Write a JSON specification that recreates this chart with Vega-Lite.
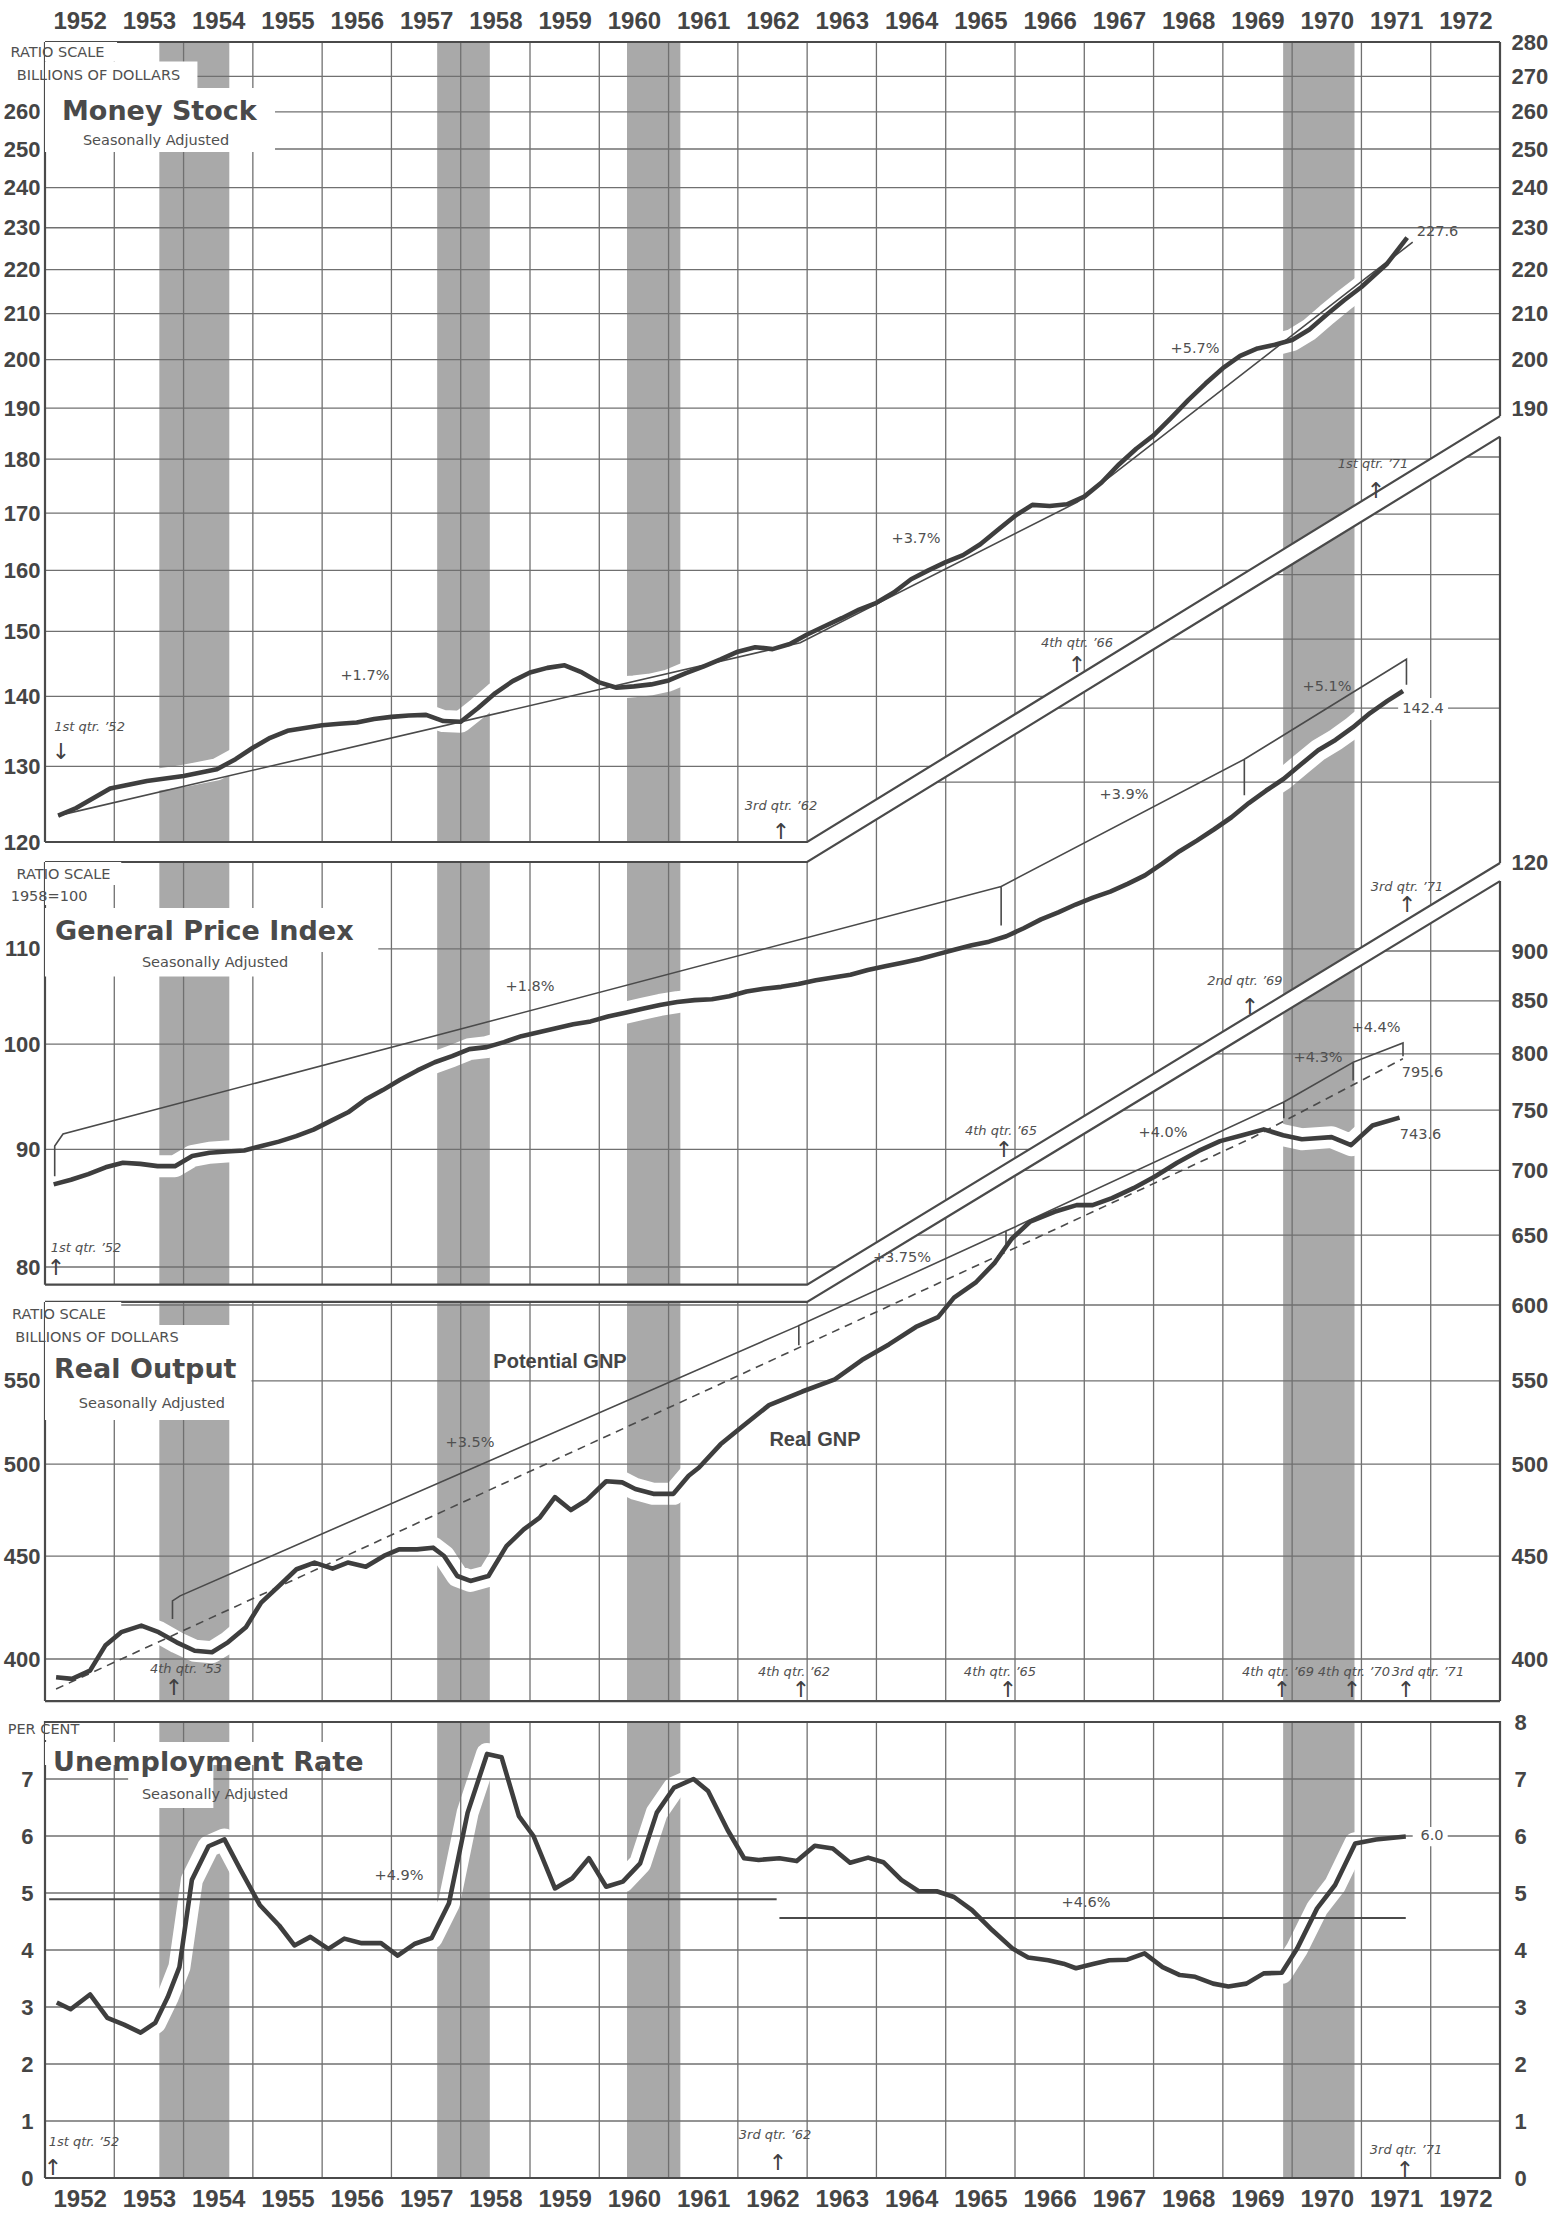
{
"$schema": "https://vega.github.io/schema/vega-lite/v6.json",
"width": 1455, "height": 2136,
"autosize": {"type": "none"},
"padding": {"left": 45, "right": 55, "top": 42, "bottom": 45},
"background": "white",
"config": {"view": {"stroke": null}, "axis": {"domain": false, "ticks": false, "tickSize": 0, "grid": false, "labelFont": "Liberation Sans", "labelFontSize": 22, "labelFontWeight": "bold", "labelColor": "#454545", "labelFlush": false, "labelOverlap": false, "labelBound": false}},
"datasets": {
"money": [{"t":1952.19,"v":123.4},{"t":1952.45,"v":124.4},{"t":1952.94,"v":127.0},{"t":1953.47,"v":128.0},{"t":1954.0,"v":128.7},{"t":1954.48,"v":129.6},{"t":1954.75,"v":131.0},{"t":1955.0,"v":132.6},{"t":1955.25,"v":134.0},{"t":1955.5,"v":135.0},{"t":1955.75,"v":135.4},{"t":1956.0,"v":135.8},{"t":1956.25,"v":136.0},{"t":1956.5,"v":136.2},{"t":1956.75,"v":136.7},{"t":1957.0,"v":137.0},{"t":1957.25,"v":137.2},{"t":1957.5,"v":137.3},{"t":1957.75,"v":136.4},{"t":1958.0,"v":136.3},{"t":1958.25,"v":138.3},{"t":1958.5,"v":140.5},{"t":1958.75,"v":142.3},{"t":1959.0,"v":143.6},{"t":1959.25,"v":144.3},{"t":1959.5,"v":144.7},{"t":1959.75,"v":143.6},{"t":1960.0,"v":142.1},{"t":1960.25,"v":141.3},{"t":1960.5,"v":141.5},{"t":1960.75,"v":141.8},{"t":1961.0,"v":142.4},{"t":1961.25,"v":143.5},{"t":1961.5,"v":144.5},{"t":1961.75,"v":145.6},{"t":1962.0,"v":146.8},{"t":1962.25,"v":147.5},{"t":1962.5,"v":147.2},{"t":1962.75,"v":148.0},{"t":1963.0,"v":149.5},{"t":1963.25,"v":150.8},{"t":1963.5,"v":152.1},{"t":1963.75,"v":153.5},{"t":1964.0,"v":154.6},{"t":1964.25,"v":156.3},{"t":1964.5,"v":158.5},{"t":1964.75,"v":160.0},{"t":1965.0,"v":161.4},{"t":1965.25,"v":162.6},{"t":1965.5,"v":164.5},{"t":1965.75,"v":167.0},{"t":1966.0,"v":169.5},{"t":1966.25,"v":171.5},{"t":1966.5,"v":171.3},{"t":1966.75,"v":171.6},{"t":1967.0,"v":173.0},{"t":1967.25,"v":175.6},{"t":1967.5,"v":179.0},{"t":1967.75,"v":182.0},{"t":1968.0,"v":184.6},{"t":1968.25,"v":188.0},{"t":1968.5,"v":191.6},{"t":1968.75,"v":195.0},{"t":1969.0,"v":198.2},{"t":1969.25,"v":200.8},{"t":1969.5,"v":202.4},{"t":1969.75,"v":203.2},{"t":1970.0,"v":204.2},{"t":1970.25,"v":206.5},{"t":1970.5,"v":209.8},{"t":1970.75,"v":213.0},{"t":1971.0,"v":216.0},{"t":1971.37,"v":221.4},{"t":1971.66,"v":227.6}],
"moneyTrend": [{"i":0,"t":1952.19,"v":123.4},{"i":1,"t":1962.9,"v":148.2},{"i":2,"t":1966.9,"v":172.0},{"i":3,"t":1971.1,"v":218.5},{"i":4,"t":1971.74,"v":226.5}],
"price": [{"t":1952.125,"v":86.9},{"t":1952.375,"v":87.3},{"t":1952.625,"v":87.8},{"t":1952.875,"v":88.4},{"t":1953.125,"v":88.8},{"t":1953.375,"v":88.7},{"t":1953.625,"v":88.5},{"t":1953.875,"v":88.5},{"t":1954.125,"v":89.4},{"t":1954.375,"v":89.7},{"t":1954.625,"v":89.8},{"t":1954.875,"v":89.9},{"t":1955.125,"v":90.3},{"t":1955.375,"v":90.7},{"t":1955.625,"v":91.2},{"t":1955.875,"v":91.8},{"t":1956.125,"v":92.6},{"t":1956.375,"v":93.4},{"t":1956.625,"v":94.6},{"t":1956.875,"v":95.5},{"t":1957.125,"v":96.5},{"t":1957.375,"v":97.4},{"t":1957.625,"v":98.2},{"t":1957.875,"v":98.8},{"t":1958.125,"v":99.5},{"t":1958.375,"v":99.7},{"t":1958.625,"v":100.2},{"t":1958.875,"v":100.8},{"t":1959.125,"v":101.2},{"t":1959.375,"v":101.6},{"t":1959.625,"v":102.0},{"t":1959.875,"v":102.3},{"t":1960.125,"v":102.8},{"t":1960.375,"v":103.2},{"t":1960.625,"v":103.6},{"t":1960.875,"v":104.0},{"t":1961.125,"v":104.3},{"t":1961.375,"v":104.5},{"t":1961.625,"v":104.6},{"t":1961.875,"v":104.9},{"t":1962.125,"v":105.4},{"t":1962.375,"v":105.7},{"t":1962.625,"v":105.9},{"t":1962.875,"v":106.2},{"t":1963.125,"v":106.6},{"t":1963.375,"v":106.9},{"t":1963.625,"v":107.2},{"t":1963.875,"v":107.7},{"t":1964.125,"v":108.1},{"t":1964.375,"v":108.5},{"t":1964.625,"v":108.9},{"t":1964.875,"v":109.4},{"t":1965.125,"v":109.9},{"t":1965.375,"v":110.4},{"t":1965.625,"v":110.8},{"t":1965.875,"v":111.4},{"t":1966.125,"v":112.3},{"t":1966.375,"v":113.3},{"t":1966.625,"v":114.1},{"t":1966.875,"v":115.0},{"t":1967.125,"v":115.8},{"t":1967.375,"v":116.5},{"t":1967.625,"v":117.4},{"t":1967.875,"v":118.4},{"t":1968.125,"v":119.8},{"t":1968.375,"v":121.3},{"t":1968.625,"v":122.6},{"t":1968.875,"v":124.0},{"t":1969.125,"v":125.5},{"t":1969.375,"v":127.3},{"t":1969.625,"v":128.9},{"t":1969.875,"v":130.4},{"t":1970.125,"v":132.3},{"t":1970.375,"v":134.2},{"t":1970.625,"v":135.6},{"t":1970.875,"v":137.3},{"t":1971.125,"v":139.3},{"t":1971.375,"v":141.0},{"t":1971.6,"v":142.4}],
"priceTrend": [{"i":0,"t":1952.14,"v":87.6},{"i":1,"t":1952.14,"v":90.3},{"i":2,"t":1952.26,"v":91.4},{"i":3,"t":1965.8,"v":117.1},{"i":4,"t":1965.8,"v":112.6},{"i":5,"t":1965.8,"v":117.1},{"i":6,"t":1969.31,"v":133.0},{"i":7,"t":1969.31,"v":128.3},{"i":8,"t":1969.31,"v":133.0},{"i":9,"t":1971.65,"v":147.0},{"i":10,"t":1971.65,"v":143.3}],
"real": [{"t":1952.16,"v":391.7},{"t":1952.39,"v":391.0},{"t":1952.65,"v":394.7},{"t":1952.87,"v":406.2},{"t":1953.1,"v":412.5},{"t":1953.39,"v":415.6},{"t":1953.64,"v":412.5},{"t":1953.9,"v":407.7},{"t":1954.16,"v":403.8},{"t":1954.41,"v":403.1},{"t":1954.64,"v":407.7},{"t":1954.9,"v":414.8},{"t":1955.12,"v":426.7},{"t":1955.38,"v":435.0},{"t":1955.63,"v":443.3},{"t":1955.89,"v":446.7},{"t":1956.15,"v":443.6},{"t":1956.37,"v":446.7},{"t":1956.63,"v":444.6},{"t":1956.89,"v":450.1},{"t":1957.11,"v":453.5},{"t":1957.37,"v":453.5},{"t":1957.6,"v":454.4},{"t":1957.76,"v":450.1},{"t":1957.95,"v":439.9},{"t":1958.14,"v":437.4},{"t":1958.4,"v":439.9},{"t":1958.66,"v":455.2},{"t":1958.91,"v":464.0},{"t":1959.14,"v":470.3},{"t":1959.36,"v":481.5},{"t":1959.59,"v":474.4},{"t":1959.81,"v":479.6},{"t":1960.1,"v":490.3},{"t":1960.33,"v":489.7},{"t":1960.52,"v":486.0},{"t":1960.78,"v":483.3},{"t":1961.07,"v":483.3},{"t":1961.29,"v":493.4},{"t":1961.44,"v":498.1},{"t":1961.75,"v":511.5},{"t":1962.06,"v":521.9},{"t":1962.45,"v":535.0},{"t":1962.93,"v":543.4},{"t":1963.4,"v":551.0},{"t":1963.79,"v":563.3},{"t":1964.18,"v":573.5},{"t":1964.57,"v":585.1},{"t":1964.89,"v":591.7},{"t":1965.12,"v":605.1},{"t":1965.44,"v":616.0},{"t":1965.71,"v":629.9},{"t":1965.95,"v":647.1},{"t":1966.22,"v":660.2},{"t":1966.57,"v":667.6},{"t":1966.89,"v":672.7},{"t":1967.12,"v":672.7},{"t":1967.4,"v":678.2},{"t":1967.71,"v":685.9},{"t":1968.02,"v":695.2},{"t":1968.34,"v":706.2},{"t":1968.65,"v":715.8},{"t":1968.96,"v":723.9},{"t":1969.28,"v":728.8},{"t":1969.59,"v":733.7},{"t":1969.87,"v":728.8},{"t":1970.14,"v":725.5},{"t":1970.57,"v":727.2},{"t":1970.85,"v":720.6},{"t":1971.16,"v":737.0},{"t":1971.55,"v":743.6}],
"realPot": [{"i":0,"t":1953.84,"v":418.7},{"i":1,"t":1953.84,"v":427.5},{"i":2,"t":1953.95,"v":430.0},{"i":3,"t":1962.88,"v":586.0},{"i":4,"t":1962.88,"v":573.0},{"i":5,"t":1962.88,"v":586.0},{"i":6,"t":1965.87,"v":653.0},{"i":7,"t":1965.87,"v":643.0},{"i":8,"t":1965.87,"v":653.0},{"i":9,"t":1969.88,"v":757.0},{"i":10,"t":1969.88,"v":743.0},{"i":11,"t":1969.88,"v":757.0},{"i":12,"t":1970.88,"v":792.3},{"i":13,"t":1970.88,"v":776.0},{"i":14,"t":1970.88,"v":792.3},{"i":15,"t":1971.6,"v":810.0},{"i":16,"t":1971.6,"v":797.8}],
"realDash": [{"t":1952.16,"v":386.5},{"t":1961.44,"v":542.0},{"t":1965.85,"v":637.0},{"t":1969.4,"v":726.0},{"t":1971.6,"v":795.6}],
"unemp": [{"t":1952.17,"v":3.08},{"t":1952.37,"v":2.96},{"t":1952.65,"v":3.22},{"t":1952.9,"v":2.81},{"t":1953.14,"v":2.69},{"t":1953.38,"v":2.55},{"t":1953.59,"v":2.72},{"t":1953.77,"v":3.17},{"t":1953.94,"v":3.7},{"t":1954.12,"v":5.23},{"t":1954.36,"v":5.82},{"t":1954.59,"v":5.94},{"t":1954.82,"v":5.41},{"t":1955.1,"v":4.79},{"t":1955.38,"v":4.43},{"t":1955.6,"v":4.08},{"t":1955.83,"v":4.23},{"t":1956.09,"v":4.02},{"t":1956.32,"v":4.2},{"t":1956.57,"v":4.12},{"t":1956.85,"v":4.12},{"t":1957.09,"v":3.9},{"t":1957.34,"v":4.11},{"t":1957.58,"v":4.21},{"t":1957.83,"v":4.82},{"t":1958.1,"v":6.41},{"t":1958.38,"v":7.44},{"t":1958.59,"v":7.38},{"t":1958.84,"v":6.35},{"t":1959.05,"v":6.0},{"t":1959.36,"v":5.08},{"t":1959.61,"v":5.26},{"t":1959.85,"v":5.61},{"t":1960.1,"v":5.11},{"t":1960.34,"v":5.2},{"t":1960.59,"v":5.52},{"t":1960.83,"v":6.41},{"t":1961.08,"v":6.85},{"t":1961.36,"v":7.0},{"t":1961.57,"v":6.79},{"t":1961.85,"v":6.11},{"t":1962.09,"v":5.61},{"t":1962.3,"v":5.58},{"t":1962.6,"v":5.61},{"t":1962.85,"v":5.56},{"t":1963.11,"v":5.83},{"t":1963.37,"v":5.78},{"t":1963.62,"v":5.53},{"t":1963.88,"v":5.62},{"t":1964.1,"v":5.54},{"t":1964.36,"v":5.23},{"t":1964.61,"v":5.03},{"t":1964.87,"v":5.03},{"t":1965.12,"v":4.93},{"t":1965.38,"v":4.7},{"t":1965.67,"v":4.35},{"t":1965.97,"v":4.02},{"t":1966.19,"v":3.87},{"t":1966.48,"v":3.82},{"t":1966.7,"v":3.76},{"t":1966.88,"v":3.68},{"t":1967.14,"v":3.76},{"t":1967.36,"v":3.82},{"t":1967.62,"v":3.83},{"t":1967.87,"v":3.94},{"t":1968.13,"v":3.7},{"t":1968.38,"v":3.56},{"t":1968.6,"v":3.53},{"t":1968.86,"v":3.41},{"t":1969.08,"v":3.36},{"t":1969.34,"v":3.41},{"t":1969.59,"v":3.59},{"t":1969.85,"v":3.6},{"t":1970.07,"v":4.02},{"t":1970.36,"v":4.73},{"t":1970.62,"v":5.14},{"t":1970.91,"v":5.87},{"t":1971.21,"v":5.94},{"t":1971.64,"v":5.99}],
"unempMean": [{"t":1952.06,"t2":1962.56,"v":4.89},{"t":1962.6,"t2":1971.64,"v":4.56}],
"bandsM": [{"band":"A","t":1953.65,"top":280,"bot":120},{"band":"A","t":1954.66,"top":280,"bot":120},{"band":"B","t":1957.66,"top":280,"bot":120},{"band":"B","t":1958.42,"top":280,"bot":120},{"band":"C","t":1960.4,"top":280,"bot":120},{"band":"C","t":1961.17,"top":280,"bot":120},{"band":"D","t":1969.87,"top":280,"bot":163.6},{"band":"D","t":1970.9,"top":280,"bot":171.4}],
"bandsP": [{"band":"A","t":1953.65,"top":120,"bot":78.6},{"band":"A","t":1954.66,"top":120,"bot":78.6},{"band":"B","t":1957.66,"top":120,"bot":78.6},{"band":"B","t":1958.42,"top":120,"bot":78.6},{"band":"C","t":1960.4,"top":120,"bot":78.6},{"band":"C","t":1961.17,"top":120,"bot":78.6},{"band":"D","t":1969.87,"top":160.7,"bot":105.0},{"band":"D","t":1970.9,"top":167.9,"bot":109.7}],
"bandsR": [{"band":"A","t":1953.65,"top":602.1,"bot":381.2},{"band":"A","t":1954.66,"top":602.1,"bot":381.2},{"band":"B","t":1957.66,"top":602.1,"bot":381.2},{"band":"B","t":1958.42,"top":602.1,"bot":381.2},{"band":"C","t":1960.4,"top":602.1,"bot":381.2},{"band":"C","t":1961.17,"top":602.1,"bot":381.2},{"band":"D","t":1969.87,"top":838.6,"bot":381.2},{"band":"D","t":1970.9,"top":881.3,"bot":381.2}],
"bandsU": [{"band":"A","t":1953.65,"top":8,"bot":0},{"band":"A","t":1954.66,"top":8,"bot":0},{"band":"B","t":1957.66,"top":8,"bot":0},{"band":"B","t":1958.42,"top":8,"bot":0},{"band":"C","t":1960.4,"top":8,"bot":0},{"band":"C","t":1961.17,"top":8,"bot":0},{"band":"D","t":1969.87,"top":8,"bot":0},{"band":"D","t":1970.9,"top":8,"bot":0}],
"hgridM": [{"t":1952,"t2":1964.774,"v":130},{"t":1952,"t2":1966.416,"v":140},{"t":1952,"t2":1967.944,"v":150},{"t":1952,"t2":1969.375,"v":160},{"t":1952,"t2":1970.718,"v":170},{"t":1952,"t2":1971.985,"v":180},{"t":1952,"t2":1973,"v":190},{"t":1952,"t2":1973,"v":200},{"t":1952,"t2":1973,"v":210},{"t":1952,"t2":1973,"v":220},{"t":1952,"t2":1973,"v":230},{"t":1952,"t2":1973,"v":240},{"t":1952,"t2":1973,"v":250},{"t":1952,"t2":1973,"v":260},{"t":1952,"t2":1973,"v":270}],
"hgridP": [{"t":1952,"t2":1963.418,"v":80},{"t":1952,"t2":1966.209,"v":90},{"t":1952,"t2":1968.706,"v":100},{"t":1952,"t2":1970.964,"v":110},{"t":1964.881,"t2":1973,"v":130},{"t":1966.623,"t2":1973,"v":140},{"t":1968.244,"t2":1973,"v":150},{"t":1969.761,"t2":1973,"v":160},{"t":1971.186,"t2":1973,"v":170},{"t":1972.529,"t2":1973,"v":180}],
"hgridR": [{"t":1952,"t2":1973,"v":400},{"t":1952,"t2":1973,"v":450},{"t":1952,"t2":1973,"v":500},{"t":1952,"t2":1973,"v":550},{"t":1952,"t2":1973,"v":600},{"t":1964.588,"t2":1973,"v":650},{"t":1966.124,"t2":1973,"v":700},{"t":1967.555,"t2":1973,"v":750},{"t":1968.894,"t2":1973,"v":800},{"t":1970.151,"t2":1973,"v":850},{"t":1971.336,"t2":1973,"v":900}],
"hgridU": [{"t":1952,"t2":1973,"v":1},{"t":1952,"t2":1973,"v":2},{"t":1952,"t2":1973,"v":3},{"t":1952,"t2":1973,"v":4},{"t":1952,"t2":1973,"v":5},{"t":1952,"t2":1973,"v":6},{"t":1952,"t2":1973,"v":7}],
"vgridM": [{"t":1953,"v1":120,"v2":280},{"t":1954,"v1":120,"v2":280},{"t":1955,"v1":120,"v2":280},{"t":1956,"v1":120,"v2":280},{"t":1957,"v1":120,"v2":280},{"t":1958,"v1":120,"v2":280},{"t":1959,"v1":120,"v2":280},{"t":1960,"v1":120,"v2":280},{"t":1961,"v1":120,"v2":280},{"t":1962,"v1":120,"v2":280},{"t":1963,"v1":120,"v2":280},{"t":1964,"v1":125.54,"v2":280},{"t":1965,"v1":131.34,"v2":280},{"t":1966,"v1":137.4,"v2":280},{"t":1967,"v1":143.74,"v2":280},{"t":1968,"v1":150.38,"v2":280},{"t":1969,"v1":157.32,"v2":280},{"t":1970,"v1":164.58,"v2":280},{"t":1971,"v1":172.18,"v2":280},{"t":1972,"v1":180.13,"v2":280}],
"vgridP": [{"t":1953,"v1":78.6,"v2":120},{"t":1954,"v1":78.6,"v2":120},{"t":1955,"v1":78.6,"v2":120},{"t":1956,"v1":78.6,"v2":120},{"t":1957,"v1":78.6,"v2":120},{"t":1958,"v1":78.6,"v2":120},{"t":1959,"v1":78.6,"v2":120},{"t":1960,"v1":78.6,"v2":120},{"t":1961,"v1":78.6,"v2":120},{"t":1962,"v1":78.6,"v2":120},{"t":1963,"v1":78.6,"v2":120},{"t":1964,"v1":81.99,"v2":125.22},{"t":1965,"v1":85.52,"v2":130.66},{"t":1966,"v1":89.21,"v2":136.34},{"t":1967,"v1":93.05,"v2":142.27},{"t":1968,"v1":97.06,"v2":148.45},{"t":1969,"v1":101.25,"v2":154.9},{"t":1970,"v1":105.61,"v2":161.64},{"t":1971,"v1":110.16,"v2":168.66},{"t":1972,"v1":114.91,"v2":176.0}],
"vgridR": [{"t":1953,"v1":381.2,"v2":602.1},{"t":1954,"v1":381.2,"v2":602.1},{"t":1955,"v1":381.2,"v2":602.1},{"t":1956,"v1":381.2,"v2":602.1},{"t":1957,"v1":381.2,"v2":602.1},{"t":1958,"v1":381.2,"v2":602.1},{"t":1959,"v1":381.2,"v2":602.1},{"t":1960,"v1":381.2,"v2":602.1},{"t":1961,"v1":381.2,"v2":602.1},{"t":1962,"v1":381.2,"v2":602.1},{"t":1963,"v1":381.2,"v2":602.1},{"t":1964,"v1":381.2,"v2":631.8},{"t":1965,"v1":381.2,"v2":663.1},{"t":1966,"v1":381.2,"v2":695.9},{"t":1967,"v1":381.2,"v2":730.2},{"t":1968,"v1":381.2,"v2":766.3},{"t":1969,"v1":381.2,"v2":804.1},{"t":1970,"v1":381.2,"v2":843.8},{"t":1971,"v1":381.2,"v2":885.6},{"t":1972,"v1":381.2,"v2":929.3}],
"vgridU": [{"t":1953,"v1":0,"v2":8},{"t":1954,"v1":0,"v2":8},{"t":1955,"v1":0,"v2":8},{"t":1956,"v1":0,"v2":8},{"t":1957,"v1":0,"v2":8},{"t":1958,"v1":0,"v2":8},{"t":1959,"v1":0,"v2":8},{"t":1960,"v1":0,"v2":8},{"t":1961,"v1":0,"v2":8},{"t":1962,"v1":0,"v2":8},{"t":1963,"v1":0,"v2":8},{"t":1964,"v1":0,"v2":8},{"t":1965,"v1":0,"v2":8},{"t":1966,"v1":0,"v2":8},{"t":1967,"v1":0,"v2":8},{"t":1968,"v1":0,"v2":8},{"t":1969,"v1":0,"v2":8},{"t":1970,"v1":0,"v2":8},{"t":1971,"v1":0,"v2":8},{"t":1972,"v1":0,"v2":8}],
"frameM": [{"part":"top","i":0,"t":1952,"v":280},{"part":"top","i":1,"t":1973,"v":280},{"part":"left","i":0,"t":1952,"v":120},{"part":"left","i":1,"t":1952,"v":280},{"part":"right","i":0,"t":1973,"v":188.4},{"part":"right","i":1,"t":1973,"v":280},{"part":"bottom","i":0,"t":1952,"v":120},{"part":"bottom","i":1,"t":1963,"v":120},{"part":"bottom","i":2,"t":1973,"v":188.4}],
"frameP": [{"part":"top","i":0,"t":1952,"v":120},{"part":"top","i":1,"t":1963,"v":120},{"part":"top","i":2,"t":1973,"v":183.7},{"part":"bottom","i":0,"t":1952,"v":78.6},{"part":"bottom","i":1,"t":1963,"v":78.6},{"part":"bottom","i":2,"t":1973,"v":119.88},{"part":"left","i":0,"t":1952,"v":78.6},{"part":"left","i":1,"t":1952,"v":120},{"part":"right","i":0,"t":1973,"v":119.88},{"part":"right","i":1,"t":1973,"v":183.7}],
"frameR": [{"part":"top","i":0,"t":1952,"v":602.1},{"part":"top","i":1,"t":1963,"v":602.1},{"part":"top","i":2,"t":1973,"v":975},{"part":"bottom","i":0,"t":1952,"v":381.2},{"part":"bottom","i":1,"t":1973,"v":381.2},{"part":"left","i":0,"t":1952,"v":381.2},{"part":"left","i":1,"t":1952,"v":602.1},{"part":"right","i":0,"t":1973,"v":381.2},{"part":"right","i":1,"t":1973,"v":975}],
"frameU": [{"part":"box","i":0,"t":1952,"v":0},{"part":"box","i":1,"t":1973,"v":0},{"part":"box","i":2,"t":1973,"v":8},{"part":"box","i":3,"t":1952,"v":8},{"part":"box","i":4,"t":1952,"v":0}],
"boxM": [{"t":1952,"t2":1953.04,"v1":274.3,"v2":280},{"t":1952,"t2":1954.2,"v1":266.7,"v2":274.3},{"t":1952,"t2":1955.32,"v1":249.2,"v2":266.7}],
"boxP": [{"t":1952,"t2":1953.1,"v1":117.27,"v2":120},{"t":1952,"t2":1952.65,"v1":114.94,"v2":117.27},{"t":1952,"t2":1956.81,"v1":109.67,"v2":114.6},{"t":1952,"t2":1955.82,"v1":107.0,"v2":109.67},{"t":1971.53,"t2":1972.25,"v1":138.34,"v2":141.4}],
"boxR": [{"t":1952,"t2":1953.1,"v1":586.4,"v2":602.1},{"t":1952,"t2":1954.98,"v1":525.9,"v2":586.4}],
"boxU": [{"t":1952,"t2":1952.55,"v1":7.684,"v2":7.98},{"t":1952,"t2":1956.96,"v1":7.246,"v2":7.649},{"t":1953.2,"t2":1954.43,"v1":6.49,"v2":7.246},{"t":1971.74,"t2":1972.245,"v1":5.82,"v2":6.16}],
"textM": [{"kind":"small","t":1952.18,"v":276.9,"label":"RATIO SCALE"},{"kind":"small","t":1952.772,"v":270.2,"label":"BILLIONS OF DOLLARS"},{"kind":"small","t":1953.602,"v":252.1,"label":"Seasonally Adjusted"},{"kind":"small","t":1956.618,"v":143.06,"label":"+1.7%"},{"kind":"small","t":1964.571,"v":165.42,"label":"+3.7%"},{"kind":"small","t":1968.598,"v":202.2,"label":"+5.7%"},{"kind":"small","t":1972.098,"v":228.9,"label":"227.6"},{"kind":"title","t":1952.245,"v":260.0,"label":"Money Stock"},{"kind":"italic","t":1952.643,"v":135.5,"label":"1st qtr. ’52"},{"kind":"italic","t":1962.623,"v":124.66,"label":"3rd qtr. ’62"},{"kind":"italic","t":1966.895,"v":148.16,"label":"4th qtr. ’66"},{"kind":"italic","t":1971.167,"v":179.07,"label":"1st qtr. ’71"},{"kind":"arrow","t":1952.231,"v":132.0,"label":"↓"},{"kind":"arrow","t":1962.623,"v":121.28,"label":"↑"},{"kind":"arrow","t":1966.895,"v":144.75,"label":"↑"},{"kind":"arrow","t":1971.21,"v":174.0,"label":"↑"}],
"textP": [{"kind":"small","t":1952.267,"v":118.45,"label":"RATIO SCALE"},{"kind":"small","t":1952.058,"v":115.87,"label":"1958=100"},{"kind":"small","t":1954.454,"v":108.46,"label":"Seasonally Adjusted"},{"kind":"small","t":1959.0,"v":105.88,"label":"+1.8%"},{"kind":"small","t":1967.573,"v":128.33,"label":"+3.9%"},{"kind":"small","t":1970.503,"v":142.98,"label":"+5.1%"},{"kind":"small","t":1971.888,"v":139.87,"label":"142.4"},{"kind":"title","t":1952.144,"v":111.88,"label":"General Price Index"},{"kind":"italic","t":1952.592,"v":81.53,"label":"1st qtr. ’52"},{"kind":"italic","t":1965.798,"v":91.68,"label":"4th qtr. ’65"},{"kind":"italic","t":1969.319,"v":106.52,"label":"2nd qtr. ’69"},{"kind":"italic","t":1971.657,"v":117.03,"label":"3rd qtr. ’71"},{"kind":"arrow","t":1952.159,"v":79.92,"label":"↑"},{"kind":"arrow","t":1965.841,"v":89.95,"label":"↑"},{"kind":"arrow","t":1969.39,"v":103.8,"label":"↑"},{"kind":"arrow","t":1971.66,"v":114.94,"label":"↑"}],
"textR": [{"kind":"small","t":1952.202,"v":593.2,"label":"RATIO SCALE"},{"kind":"small","t":1952.75,"v":577.8,"label":"BILLIONS OF DOLLARS"},{"kind":"small","t":1953.544,"v":535.7,"label":"Seasonally Adjusted"},{"kind":"small","t":1958.134,"v":512.3,"label":"+3.5%"},{"kind":"small","t":1964.369,"v":633.2,"label":"+3.75%"},{"kind":"small","t":1968.136,"v":730.6,"label":"+4.0%"},{"kind":"small","t":1970.373,"v":795.8,"label":"+4.3%"},{"kind":"small","t":1971.21,"v":823.6,"label":"+4.4%"},{"kind":"small","t":1971.881,"v":782.3,"label":"795.6"},{"kind":"small","t":1971.853,"v":729.1,"label":"743.6"},{"kind":"title","t":1952.13,"v":556.9,"label":"Real Output"},{"kind":"bold","t":1959.433,"v":562.1,"label":"Potential GNP"},{"kind":"bold","t":1963.113,"v":514.0,"label":"Real GNP"},{"kind":"italic","t":1954.035,"v":395.4,"label":"4th qtr. ’53"},{"kind":"italic","t":1962.81,"v":394.1,"label":"4th qtr. ’62"},{"kind":"italic","t":1965.783,"v":394.1,"label":"4th qtr. ’65"},{"kind":"italic","t":1969.796,"v":394.1,"label":"4th qtr. ’69"},{"kind":"italic","t":1970.892,"v":394.1,"label":"4th qtr. ’70"},{"kind":"italic","t":1971.96,"v":394.1,"label":"3rd qtr. ’71"},{"kind":"arrow","t":1953.862,"v":386.9,"label":"↑"},{"kind":"arrow","t":1962.911,"v":386.0,"label":"↑"},{"kind":"arrow","t":1965.899,"v":386.0,"label":"↑"},{"kind":"arrow","t":1969.853,"v":386.0,"label":"↑"},{"kind":"arrow","t":1970.863,"v":386.0,"label":"↑"},{"kind":"arrow","t":1971.643,"v":386.0,"label":"↑"}],
"textU": [{"kind":"small","t":1951.978,"v":7.86,"label":"PER CENT"},{"kind":"small","t":1954.454,"v":6.72,"label":"Seasonally Adjusted"},{"kind":"small","t":1957.109,"v":5.3,"label":"+4.9%"},{"kind":"small","t":1967.025,"v":4.82,"label":"+4.6%"},{"kind":"small","t":1972.018,"v":6.0,"label":"6.0"},{"kind":"title","t":1952.115,"v":7.28,"label":"Unemployment Rate"},{"kind":"italic","t":1952.563,"v":0.632,"label":"1st qtr. ’52"},{"kind":"italic","t":1962.536,"v":0.754,"label":"3rd qtr. ’62"},{"kind":"italic","t":1971.643,"v":0.491,"label":"3rd qtr. ’71"},{"kind":"arrow","t":1952.115,"v":0.175,"label":"↑"},{"kind":"arrow","t":1962.579,"v":0.263,"label":"↑"},{"kind":"arrow","t":1971.63,"v":0.14,"label":"↑"}]
},
"encoding": {"x": {"field": "t", "type": "quantitative", "scale": {"domain": [1952, 1973], "nice": false, "zero": false}, "axis": null}},
"layer": [
{"data": {"name": "bandsM"}, "mark": {"type": "area", "fill": "#a9a9a9"}, "encoding": {"y": {"field": "top", "type": "quantitative", "scale": {"type": "log", "domain": [120, 280], "range": [800, 0], "nice": false}, "axis": null}, "y2": {"field": "bot"}, "detail": {"field": "band"}}},
{"data": {"name": "bandsP"}, "mark": {"type": "area", "fill": "#a9a9a9"}, "encoding": {"y": {"field": "top", "type": "quantitative", "scale": {"type": "log", "domain": [80, 120], "range": [1225, 820], "nice": false}, "axis": null}, "y2": {"field": "bot"}, "detail": {"field": "band"}}},
{"data": {"name": "bandsR"}, "mark": {"type": "area", "fill": "#a9a9a9"}, "encoding": {"y": {"field": "top", "type": "quantitative", "scale": {"type": "log", "domain": [400, 900], "range": [1617, 909], "nice": false}, "axis": null}, "y2": {"field": "bot"}, "detail": {"field": "band"}}},
{"data": {"name": "bandsU"}, "mark": {"type": "area", "fill": "#a9a9a9"}, "encoding": {"y": {"field": "top", "type": "quantitative", "scale": {"type": "linear", "domain": [0, 8], "range": [2136, 1680], "nice": false, "zero": false}, "axis": null}, "y2": {"field": "bot"}, "detail": {"field": "band"}}},
{"data": {"name": "money"}, "mark": {"type": "line", "stroke": "white", "strokeWidth": 22, "strokeJoin": "round"}, "encoding": {"y": {"field": "v", "type": "quantitative", "scale": {"type": "log", "domain": [120, 280], "range": [800, 0], "nice": false}, "axis": null}}},
{"data": {"name": "price"}, "mark": {"type": "line", "stroke": "white", "strokeWidth": 22, "strokeJoin": "round"}, "encoding": {"y": {"field": "v", "type": "quantitative", "scale": {"type": "log", "domain": [80, 120], "range": [1225, 820], "nice": false}, "axis": null}}},
{"data": {"name": "real"}, "mark": {"type": "line", "stroke": "white", "strokeWidth": 22, "strokeJoin": "round"}, "encoding": {"y": {"field": "v", "type": "quantitative", "scale": {"type": "log", "domain": [400, 900], "range": [1617, 909], "nice": false}, "axis": null}}},
{"data": {"name": "unemp"}, "mark": {"type": "line", "stroke": "white", "strokeWidth": 22, "strokeJoin": "round"}, "encoding": {"y": {"field": "v", "type": "quantitative", "scale": {"type": "linear", "domain": [0, 8], "range": [2136, 1680], "nice": false, "zero": false}, "axis": null}}},
{"data": {"name": "hgridM"}, "mark": {"type": "rule", "stroke": "#707070", "strokeWidth": 1.3}, "encoding": {"x2": {"field": "t2"}, "y": {"field": "v", "type": "quantitative", "scale": {"type": "log", "domain": [120, 280], "range": [800, 0], "nice": false}, "axis": {"orient": "left", "title": null, "values": [120,130,140,150,160,170,180,190,200,210,220,230,240,250,260], "labelExpr": "format(datum.value, 'd')", "labelPadding": 5}}}},
{"data": {"name": "vgridM"}, "mark": {"type": "rule", "stroke": "#707070", "strokeWidth": 1.3}, "encoding": {"y": {"field": "v1", "type": "quantitative", "scale": {"type": "log", "domain": [120, 280], "range": [800, 0], "nice": false}, "axis": {"orient": "right", "title": null, "values": [190,200,210,220,230,240,250,260,270,280], "labelExpr": "format(datum.value, 'd')", "labelPadding": 11}}, "y2": {"field": "v2"}}},
{"data": {"name": "hgridP"}, "mark": {"type": "rule", "stroke": "#707070", "strokeWidth": 1.3}, "encoding": {"x2": {"field": "t2"}, "y": {"field": "v", "type": "quantitative", "scale": {"type": "log", "domain": [80, 120], "range": [1225, 820], "nice": false}, "axis": {"orient": "left", "title": null, "values": [80,90,100,110], "labelExpr": "format(datum.value, 'd')", "labelPadding": 5}}}},
{"data": {"name": "vgridP"}, "mark": {"type": "rule", "stroke": "#707070", "strokeWidth": 1.3}, "encoding": {"y": {"field": "v1", "type": "quantitative", "scale": {"type": "log", "domain": [80, 120], "range": [1225, 820], "nice": false}, "axis": {"orient": "right", "title": null, "values": [120,130,140,150,160,170], "labelExpr": "format(datum.value, 'd')", "labelPadding": 11}}, "y2": {"field": "v2"}}},
{"data": {"name": "hgridR"}, "mark": {"type": "rule", "stroke": "#707070", "strokeWidth": 1.3}, "encoding": {"x2": {"field": "t2"}, "y": {"field": "v", "type": "quantitative", "scale": {"type": "log", "domain": [400, 900], "range": [1617, 909], "nice": false}, "axis": {"orient": "left", "title": null, "values": [400,450,500,550], "labelExpr": "format(datum.value, 'd')", "labelPadding": 5}}}},
{"data": {"name": "vgridR"}, "mark": {"type": "rule", "stroke": "#707070", "strokeWidth": 1.3}, "encoding": {"y": {"field": "v1", "type": "quantitative", "scale": {"type": "log", "domain": [400, 900], "range": [1617, 909], "nice": false}, "axis": {"orient": "right", "title": null, "values": [400,450,500,550,600,650,700,750,800,850,900], "labelExpr": "format(datum.value, 'd')", "labelPadding": 11}}, "y2": {"field": "v2"}}},
{"data": {"name": "hgridU"}, "mark": {"type": "rule", "stroke": "#707070", "strokeWidth": 1.3}, "encoding": {"x2": {"field": "t2"}, "y": {"field": "v", "type": "quantitative", "scale": {"type": "linear", "domain": [0, 8], "range": [2136, 1680], "nice": false, "zero": false}, "axis": {"orient": "left", "title": null, "values": [0,1,2,3,4,5,6,7], "labelPadding": 12}}}},
{"data": {"name": "vgridU"}, "mark": {"type": "rule", "stroke": "#707070", "strokeWidth": 1.3}, "encoding": {"y": {"field": "v1", "type": "quantitative", "scale": {"type": "linear", "domain": [0, 8], "range": [2136, 1680], "nice": false, "zero": false}, "axis": {"orient": "right", "title": null, "values": [0,1,2,3,4,5,6,7,8], "labelPadding": 14}}, "y2": {"field": "v2"}}},
{"data": {"name": "frameM"}, "mark": {"type": "line", "stroke": "#4a4a4a", "strokeWidth": 2.2}, "encoding": {"x": {"field": "t", "type": "quantitative", "scale": {"domain": [1952, 1973], "nice": false, "zero": false}, "axis": {"orient": "top", "title": null, "labelFontSize": 24, "values": [1952.5,1953.5,1954.5,1955.5,1956.5,1957.5,1958.5,1959.5,1960.5,1961.5,1962.5,1963.5,1964.5,1965.5,1966.5,1967.5,1968.5,1969.5,1970.5,1971.5,1972.5], "labelExpr": "floor(datum.value)", "labelPadding": 9}}, "y": {"field": "v", "type": "quantitative", "scale": {"type": "log", "domain": [120, 280], "range": [800, 0], "nice": false}, "axis": null}, "detail": {"field": "part"}, "order": {"field": "i"}}},
{"data": {"name": "frameP"}, "mark": {"type": "line", "stroke": "#4a4a4a", "strokeWidth": 2.2}, "encoding": {"y": {"field": "v", "type": "quantitative", "scale": {"type": "log", "domain": [80, 120], "range": [1225, 820], "nice": false}, "axis": null}, "detail": {"field": "part"}, "order": {"field": "i"}}},
{"data": {"name": "frameR"}, "mark": {"type": "line", "stroke": "#4a4a4a", "strokeWidth": 2.2}, "encoding": {"y": {"field": "v", "type": "quantitative", "scale": {"type": "log", "domain": [400, 900], "range": [1617, 909], "nice": false}, "axis": null}, "detail": {"field": "part"}, "order": {"field": "i"}}},
{"data": {"name": "frameU"}, "mark": {"type": "line", "stroke": "#4a4a4a", "strokeWidth": 2.2}, "encoding": {"x": {"field": "t", "type": "quantitative", "scale": {"domain": [1952, 1973], "nice": false, "zero": false}, "axis": {"orient": "bottom", "title": null, "labelFontSize": 24, "values": [1952.5,1953.5,1954.5,1955.5,1956.5,1957.5,1958.5,1959.5,1960.5,1961.5,1962.5,1963.5,1964.5,1965.5,1966.5,1967.5,1968.5,1969.5,1970.5,1971.5,1972.5], "labelExpr": "floor(datum.value)", "labelPadding": 9}}, "y": {"field": "v", "type": "quantitative", "scale": {"type": "linear", "domain": [0, 8], "range": [2136, 1680], "nice": false, "zero": false}, "axis": null}, "detail": {"field": "part"}, "order": {"field": "i"}}},
{"data": {"name": "boxM"}, "mark": {"type": "rect", "fill": "white"}, "encoding": {"x2": {"field": "t2"}, "y": {"field": "v1", "type": "quantitative", "scale": {"type": "log", "domain": [120, 280], "range": [800, 0], "nice": false}, "axis": null}, "y2": {"field": "v2"}}},
{"data": {"name": "boxP"}, "mark": {"type": "rect", "fill": "white"}, "encoding": {"x2": {"field": "t2"}, "y": {"field": "v1", "type": "quantitative", "scale": {"type": "log", "domain": [80, 120], "range": [1225, 820], "nice": false}, "axis": null}, "y2": {"field": "v2"}}},
{"data": {"name": "boxR"}, "mark": {"type": "rect", "fill": "white"}, "encoding": {"x2": {"field": "t2"}, "y": {"field": "v1", "type": "quantitative", "scale": {"type": "log", "domain": [400, 900], "range": [1617, 909], "nice": false}, "axis": null}, "y2": {"field": "v2"}}},
{"data": {"name": "boxU"}, "mark": {"type": "rect", "fill": "white"}, "encoding": {"x2": {"field": "t2"}, "y": {"field": "v1", "type": "quantitative", "scale": {"type": "linear", "domain": [0, 8], "range": [2136, 1680], "nice": false, "zero": false}, "axis": null}, "y2": {"field": "v2"}}},
{"data": {"name": "moneyTrend"}, "mark": {"type": "line", "stroke": "#4a4a4a", "strokeWidth": 1.6}, "encoding": {"y": {"field": "v", "type": "quantitative", "scale": {"type": "log", "domain": [120, 280], "range": [800, 0], "nice": false}, "axis": null}, "order": {"field": "i"}}},
{"data": {"name": "money"}, "mark": {"type": "line", "stroke": "#3e3e3e", "strokeWidth": 4.6, "strokeJoin": "round"}, "encoding": {"y": {"field": "v", "type": "quantitative", "scale": {"type": "log", "domain": [120, 280], "range": [800, 0], "nice": false}, "axis": null}}},
{"data": {"name": "priceTrend"}, "mark": {"type": "line", "stroke": "#4a4a4a", "strokeWidth": 1.6}, "encoding": {"y": {"field": "v", "type": "quantitative", "scale": {"type": "log", "domain": [80, 120], "range": [1225, 820], "nice": false}, "axis": null}, "order": {"field": "i"}}},
{"data": {"name": "price"}, "mark": {"type": "line", "stroke": "#3e3e3e", "strokeWidth": 4.6, "strokeJoin": "round"}, "encoding": {"y": {"field": "v", "type": "quantitative", "scale": {"type": "log", "domain": [80, 120], "range": [1225, 820], "nice": false}, "axis": null}}},
{"data": {"name": "realPot"}, "mark": {"type": "line", "stroke": "#4a4a4a", "strokeWidth": 1.6}, "encoding": {"y": {"field": "v", "type": "quantitative", "scale": {"type": "log", "domain": [400, 900], "range": [1617, 909], "nice": false}, "axis": null}, "order": {"field": "i"}}},
{"data": {"name": "realDash"}, "mark": {"type": "line", "stroke": "#4a4a4a", "strokeWidth": 1.6, "strokeDash": [8, 6]}, "encoding": {"y": {"field": "v", "type": "quantitative", "scale": {"type": "log", "domain": [400, 900], "range": [1617, 909], "nice": false}, "axis": null}}},
{"data": {"name": "real"}, "mark": {"type": "line", "stroke": "#3e3e3e", "strokeWidth": 4.6, "strokeJoin": "round"}, "encoding": {"y": {"field": "v", "type": "quantitative", "scale": {"type": "log", "domain": [400, 900], "range": [1617, 909], "nice": false}, "axis": null}}},
{"data": {"name": "unempMean"}, "mark": {"type": "rule", "stroke": "#4a4a4a", "strokeWidth": 2}, "encoding": {"x2": {"field": "t2"}, "y": {"field": "v", "type": "quantitative", "scale": {"type": "linear", "domain": [0, 8], "range": [2136, 1680], "nice": false, "zero": false}, "axis": null}}},
{"data": {"name": "unemp"}, "mark": {"type": "line", "stroke": "#3e3e3e", "strokeWidth": 4.6, "strokeJoin": "round"}, "encoding": {"y": {"field": "v", "type": "quantitative", "scale": {"type": "linear", "domain": [0, 8], "range": [2136, 1680], "nice": false, "zero": false}, "axis": null}}},
{"data": {"name": "textM"}, "transform": [{"filter": "datum.kind === 'small'"}], "mark": {"type": "text", "font": "DejaVu Sans", "fontSize": 14.5, "fill": "#505050", "align": "center", "baseline": "middle"}, "encoding": {"y": {"field": "v", "type": "quantitative", "scale": {"type": "log", "domain": [120, 280], "range": [800, 0], "nice": false}, "axis": null}, "text": {"field": "label"}}},
{"data": {"name": "textM"}, "transform": [{"filter": "datum.kind === 'title'"}], "mark": {"type": "text", "font": "DejaVu Sans", "fontWeight": "bold", "fontSize": 27, "fill": "#4a4a4a", "align": "left", "baseline": "middle"}, "encoding": {"y": {"field": "v", "type": "quantitative", "scale": {"type": "log", "domain": [120, 280], "range": [800, 0], "nice": false}, "axis": null}, "text": {"field": "label"}}},
{"data": {"name": "textM"}, "transform": [{"filter": "datum.kind === 'italic'"}], "mark": {"type": "text", "font": "DejaVu Sans", "fontStyle": "italic", "fontSize": 13, "fill": "#505050", "align": "center", "baseline": "middle"}, "encoding": {"y": {"field": "v", "type": "quantitative", "scale": {"type": "log", "domain": [120, 280], "range": [800, 0], "nice": false}, "axis": null}, "text": {"field": "label"}}},
{"data": {"name": "textM"}, "transform": [{"filter": "datum.kind === 'arrow'"}], "mark": {"type": "text", "font": "DejaVu Sans", "fontSize": 22, "fill": "#404040", "align": "center", "baseline": "middle"}, "encoding": {"y": {"field": "v", "type": "quantitative", "scale": {"type": "log", "domain": [120, 280], "range": [800, 0], "nice": false}, "axis": null}, "text": {"field": "label"}}},
{"data": {"name": "textP"}, "transform": [{"filter": "datum.kind === 'small'"}], "mark": {"type": "text", "font": "DejaVu Sans", "fontSize": 14.5, "fill": "#505050", "align": "center", "baseline": "middle"}, "encoding": {"y": {"field": "v", "type": "quantitative", "scale": {"type": "log", "domain": [80, 120], "range": [1225, 820], "nice": false}, "axis": null}, "text": {"field": "label"}}},
{"data": {"name": "textP"}, "transform": [{"filter": "datum.kind === 'title'"}], "mark": {"type": "text", "font": "DejaVu Sans", "fontWeight": "bold", "fontSize": 27, "fill": "#4a4a4a", "align": "left", "baseline": "middle"}, "encoding": {"y": {"field": "v", "type": "quantitative", "scale": {"type": "log", "domain": [80, 120], "range": [1225, 820], "nice": false}, "axis": null}, "text": {"field": "label"}}},
{"data": {"name": "textP"}, "transform": [{"filter": "datum.kind === 'italic'"}], "mark": {"type": "text", "font": "DejaVu Sans", "fontStyle": "italic", "fontSize": 13, "fill": "#505050", "align": "center", "baseline": "middle"}, "encoding": {"y": {"field": "v", "type": "quantitative", "scale": {"type": "log", "domain": [80, 120], "range": [1225, 820], "nice": false}, "axis": null}, "text": {"field": "label"}}},
{"data": {"name": "textP"}, "transform": [{"filter": "datum.kind === 'arrow'"}], "mark": {"type": "text", "font": "DejaVu Sans", "fontSize": 22, "fill": "#404040", "align": "center", "baseline": "middle"}, "encoding": {"y": {"field": "v", "type": "quantitative", "scale": {"type": "log", "domain": [80, 120], "range": [1225, 820], "nice": false}, "axis": null}, "text": {"field": "label"}}},
{"data": {"name": "textR"}, "transform": [{"filter": "datum.kind === 'small'"}], "mark": {"type": "text", "font": "DejaVu Sans", "fontSize": 14.5, "fill": "#505050", "align": "center", "baseline": "middle"}, "encoding": {"y": {"field": "v", "type": "quantitative", "scale": {"type": "log", "domain": [400, 900], "range": [1617, 909], "nice": false}, "axis": null}, "text": {"field": "label"}}},
{"data": {"name": "textR"}, "transform": [{"filter": "datum.kind === 'title'"}], "mark": {"type": "text", "font": "DejaVu Sans", "fontWeight": "bold", "fontSize": 27, "fill": "#4a4a4a", "align": "left", "baseline": "middle"}, "encoding": {"y": {"field": "v", "type": "quantitative", "scale": {"type": "log", "domain": [400, 900], "range": [1617, 909], "nice": false}, "axis": null}, "text": {"field": "label"}}},
{"data": {"name": "textR"}, "transform": [{"filter": "datum.kind === 'bold'"}], "mark": {"type": "text", "font": "Liberation Sans", "fontWeight": "bold", "fontSize": 20, "fill": "#454545", "align": "center", "baseline": "middle"}, "encoding": {"y": {"field": "v", "type": "quantitative", "scale": {"type": "log", "domain": [400, 900], "range": [1617, 909], "nice": false}, "axis": null}, "text": {"field": "label"}}},
{"data": {"name": "textR"}, "transform": [{"filter": "datum.kind === 'italic'"}], "mark": {"type": "text", "font": "DejaVu Sans", "fontStyle": "italic", "fontSize": 13, "fill": "#505050", "align": "center", "baseline": "middle"}, "encoding": {"y": {"field": "v", "type": "quantitative", "scale": {"type": "log", "domain": [400, 900], "range": [1617, 909], "nice": false}, "axis": null}, "text": {"field": "label"}}},
{"data": {"name": "textR"}, "transform": [{"filter": "datum.kind === 'arrow'"}], "mark": {"type": "text", "font": "DejaVu Sans", "fontSize": 22, "fill": "#404040", "align": "center", "baseline": "middle"}, "encoding": {"y": {"field": "v", "type": "quantitative", "scale": {"type": "log", "domain": [400, 900], "range": [1617, 909], "nice": false}, "axis": null}, "text": {"field": "label"}}},
{"data": {"name": "textU"}, "transform": [{"filter": "datum.kind === 'small'"}], "mark": {"type": "text", "font": "DejaVu Sans", "fontSize": 14.5, "fill": "#505050", "align": "center", "baseline": "middle"}, "encoding": {"y": {"field": "v", "type": "quantitative", "scale": {"type": "linear", "domain": [0, 8], "range": [2136, 1680], "nice": false, "zero": false}, "axis": null}, "text": {"field": "label"}}},
{"data": {"name": "textU"}, "transform": [{"filter": "datum.kind === 'title'"}], "mark": {"type": "text", "font": "DejaVu Sans", "fontWeight": "bold", "fontSize": 27, "fill": "#4a4a4a", "align": "left", "baseline": "middle"}, "encoding": {"y": {"field": "v", "type": "quantitative", "scale": {"type": "linear", "domain": [0, 8], "range": [2136, 1680], "nice": false, "zero": false}, "axis": null}, "text": {"field": "label"}}},
{"data": {"name": "textU"}, "transform": [{"filter": "datum.kind === 'italic'"}], "mark": {"type": "text", "font": "DejaVu Sans", "fontStyle": "italic", "fontSize": 13, "fill": "#505050", "align": "center", "baseline": "middle"}, "encoding": {"y": {"field": "v", "type": "quantitative", "scale": {"type": "linear", "domain": [0, 8], "range": [2136, 1680], "nice": false, "zero": false}, "axis": null}, "text": {"field": "label"}}},
{"data": {"name": "textU"}, "transform": [{"filter": "datum.kind === 'arrow'"}], "mark": {"type": "text", "font": "DejaVu Sans", "fontSize": 22, "fill": "#404040", "align": "center", "baseline": "middle"}, "encoding": {"y": {"field": "v", "type": "quantitative", "scale": {"type": "linear", "domain": [0, 8], "range": [2136, 1680], "nice": false, "zero": false}, "axis": null}, "text": {"field": "label"}}}
],
"resolve": {"scale": {"y": "independent"}, "axis": {"x": "independent", "y": "independent"}}
}
